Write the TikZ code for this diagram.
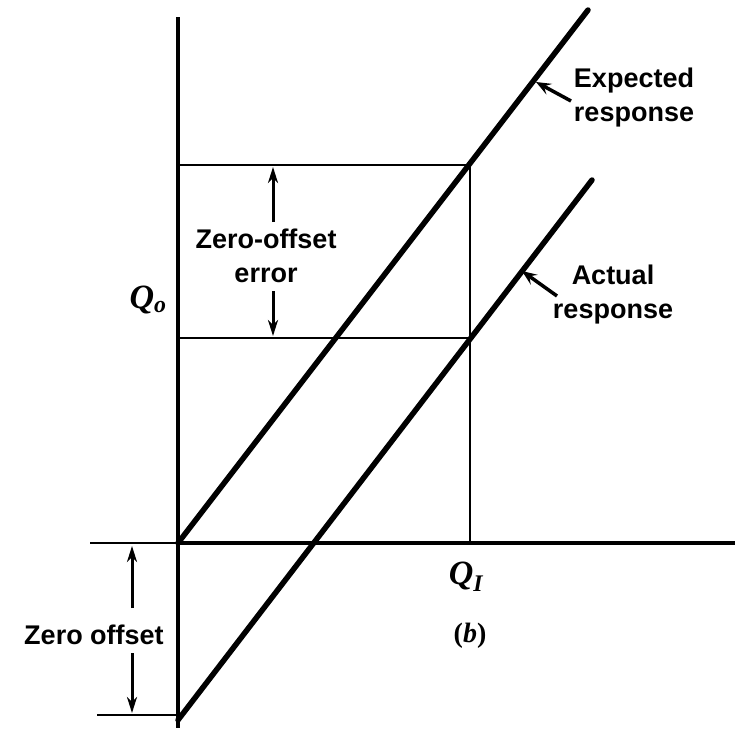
\documentclass[tikz,border=0pt]{standalone}
\usepackage{fontspec}
\setmainfont{Liberation Sans}
\newfontfamily\qfont{Liberation Serif}
\usetikzlibrary{arrows.meta}
\tikzset{
  resp/.style={line width=5.5pt},
  axis/.style={line width=4.5pt},
  thin/.style={line width=2.8pt},
  dimarrow/.style={line width=3pt,-{Stealth[length=16pt,width=10pt,inset=5pt]}},
  ptr/.style={line width=3.5pt,-{Stealth[length=15pt,width=12pt,inset=6pt]}},
  lbl/.style={font=\fontsize{27}{34}\selectfont\bfseries,inner sep=0pt,align=center},
  qlbl/.style={font=\qfont\fontsize{34}{38}\selectfont\bfseries\itshape,inner sep=0pt}
}
\begin{document}
\begin{tikzpicture}[x=1pt,y=-1pt]
\useasboundingbox (0,0) rectangle (735,731);
% coordinates
\coordinate (vtop) at (178,17);
\coordinate (vbot) at (178,728);
\coordinate (origin) at (178,543);
\coordinate (hend) at (735,543);
\coordinate (ticktopL) at (90,543);
\coordinate (tickbotL) at (97,715);
\coordinate (tickbotR) at (176,715);
\coordinate (qoL) at (178,165);
\coordinate (qoR) at (470,165);
\coordinate (qaL) at (178,338);
\coordinate (qaR) at (470,338);
\coordinate (qiB) at (470,543);
\coordinate (expB) at (178,543);
\coordinate (expT) at (588,10);
\coordinate (actB) at (178,720);
\coordinate (actT) at (592,180);
% axes
\draw[axis] (vtop) -- (vbot);
\draw[axis] (origin) -- (hend);
\draw[thin] (ticktopL) -- (origin);
\draw[thin] (tickbotL) -- (tickbotR);
% box lines
\draw[thin] (qoL) -- (qoR) -- (qiB);
\draw[thin] (qaL) -- (qaR);
% responses
\draw[resp,line cap=round] (expB) -- (expT);
\draw[resp,line cap=round] (actB) -- (actT);
% labels
\node[lbl] (explbl) at (634,98) {Expected\\response};
\node[lbl] (actlbl) at (613,295) {Actual\\response};
\coordinate (exptail) at (571,101);
\coordinate (exptip) at (536,82);
\coordinate (acttail) at (557,296);
\coordinate (acttip) at (522,271);
\draw[ptr] (exptail) -- (exptip);
\draw[ptr] (acttail) -- (acttip);
% zero-offset error
\node[lbl] (zoe) at (266,256) {Zero-offset\\error};
\coordinate (zoeA1) at (273,222);
\coordinate (zoeA2) at (273,167);
\coordinate (zoeB1) at (273,291);
\coordinate (zoeB2) at (273,336);
\draw[dimarrow] (zoeA1) -- (zoeA2);
\draw[dimarrow] (zoeB1) -- (zoeB2);
% zero offset
\node[lbl] (zo) at (94,635) {Zero offset};
\coordinate (zoA1) at (132,608);
\coordinate (zoA2) at (132,546);
\coordinate (zoB1) at (132,653);
\coordinate (zoB2) at (132,713);
\draw[dimarrow] (zoA1) -- (zoA2);
\draw[dimarrow] (zoB1) -- (zoB2);
% Q labels
\node[qlbl] (qo) at (148,300) {Q\textsubscript{o}};
\node[qlbl] (qi) at (466,577) {Q\textsubscript{I}};
\node[font=\qfont\fontsize{28}{32}\selectfont\bfseries,inner sep=0pt] (b) at (470,636) {(\textit{b})};
\end{tikzpicture}
\end{document}
